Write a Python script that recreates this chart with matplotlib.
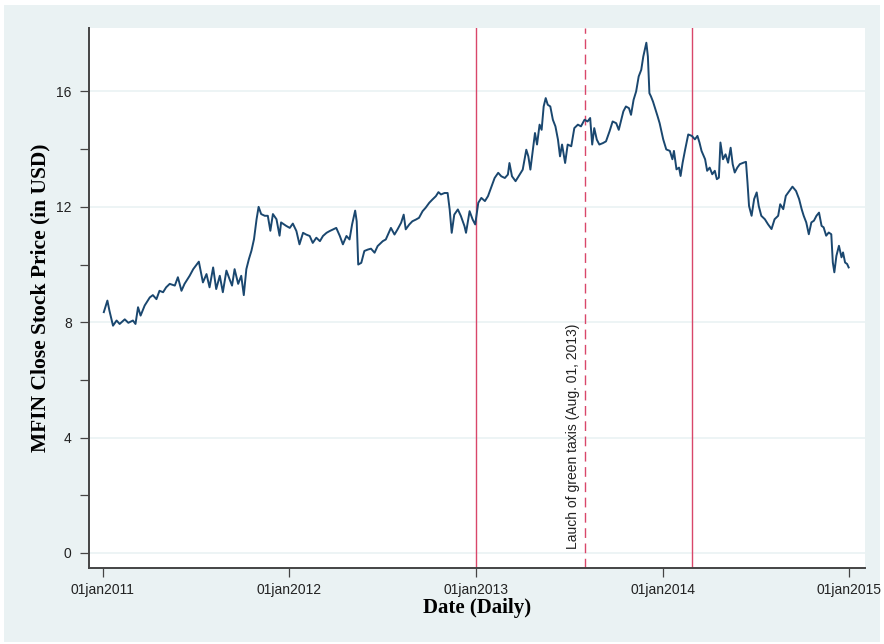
import pandas as pd
import matplotlib
matplotlib.use('Agg')
import matplotlib.pyplot as plt
from matplotlib.patches import Rectangle

# MFIN close price (approx. every week)
dates = [
    '2011-01-03', '2011-01-10', '2011-01-14', '2011-01-21', '2011-01-28', '2011-02-03', '2011-02-13', '2011-02-20',
    '2011-03-01', '2011-03-06', '2011-03-11', '2011-03-16', '2011-03-24', '2011-04-03', '2011-04-09', '2011-04-16',
    '2011-04-22', '2011-04-29', '2011-05-05', '2011-05-12', '2011-05-22', '2011-05-28', '2011-06-04', '2011-06-10',
    '2011-06-20', '2011-06-27', '2011-07-08', '2011-07-16', '2011-07-23', '2011-07-29', '2011-08-05', '2011-08-11',
    '2011-08-18', '2011-08-24', '2011-08-31', '2011-09-06', '2011-09-11', '2011-09-16', '2011-09-23', '2011-09-29',
    '2011-10-04', '2011-10-09', '2011-10-14', '2011-10-19', '2011-10-24', '2011-10-29', '2011-11-02', '2011-11-07',
    '2011-11-14', '2011-11-20', '2011-11-25', '2011-11-30', '2011-12-07', '2011-12-13', '2011-12-16', '2011-12-26',
    '2012-01-02', '2012-01-08', '2012-01-15', '2012-01-21', '2012-01-28', '2012-02-03', '2012-02-10', '2012-02-16',
    '2012-02-23', '2012-03-01', '2012-03-07', '2012-03-14', '2012-03-20', '2012-03-27', '2012-04-02', '2012-04-09',
    '2012-04-15', '2012-04-22', '2012-04-28', '2012-05-03', '2012-05-09', '2012-05-12', '2012-05-15', '2012-05-21',
    '2012-05-27', '2012-06-03', '2012-06-09', '2012-06-16', '2012-06-22', '2012-07-02', '2012-07-08', '2012-07-18',
    '2012-07-25', '2012-07-31', '2012-08-07', '2012-08-12', '2012-08-16', '2012-08-23', '2012-08-29', '2012-09-05',
    '2012-09-11', '2012-09-18', '2012-09-24', '2012-10-01', '2012-10-07', '2012-10-14', '2012-10-19', '2012-10-24',
    '2012-10-31', '2012-11-06', '2012-11-10', '2012-11-14', '2012-11-19', '2012-11-26', '2012-12-02', '2012-12-09',
    '2012-12-12', '2012-12-19', '2012-12-25', '2012-12-30',
    '2013-01-05', '2013-01-11', '2013-01-18', '2013-01-24', '2013-01-31', '2013-02-06', '2013-02-13', '2013-02-19',
    '2013-02-26', '2013-03-04', '2013-03-07', '2013-03-12', '2013-03-19', '2013-03-25', '2013-04-02', '2013-04-09',
    '2013-04-13', '2013-04-17', '2013-04-22', '2013-04-26', '2013-04-30', '2013-05-05', '2013-05-09', '2013-05-13',
    '2013-05-17', '2013-05-21', '2013-05-26', '2013-05-31', '2013-06-05', '2013-06-10', '2013-06-14', '2013-06-18',
    '2013-06-24', '2013-06-29', '2013-07-06', '2013-07-12', '2013-07-19', '2013-07-25', '2013-08-01', '2013-08-07',
    '2013-08-12', '2013-08-16', '2013-08-20', '2013-08-25', '2013-08-30', '2013-09-06', '2013-09-12', '2013-09-19',
    '2013-09-25', '2013-10-02', '2013-10-07', '2013-10-12', '2013-10-16', '2013-10-21', '2013-10-27', '2013-10-31',
    '2013-11-05', '2013-11-10', '2013-11-15', '2013-11-20', '2013-11-24', '2013-11-30', '2013-12-03', '2013-12-06',
    '2013-12-09', '2013-12-13', '2013-12-18', '2013-12-22', '2013-12-26',
    '2014-01-02', '2014-01-08', '2014-01-15', '2014-01-20', '2014-01-23', '2014-01-28', '2014-02-02', '2014-02-05',
    '2014-02-09', '2014-02-14', '2014-02-20', '2014-02-27', '2014-03-05', '2014-03-10', '2014-03-14', '2014-03-18',
    '2014-03-25', '2014-03-29', '2014-04-03', '2014-04-08', '2014-04-13', '2014-04-17', '2014-04-21', '2014-04-24',
    '2014-04-29', '2014-05-04', '2014-05-09', '2014-05-14', '2014-05-18', '2014-05-22', '2014-05-27', '2014-06-01',
    '2014-06-08', '2014-06-13', '2014-06-16', '2014-06-19', '2014-06-24', '2014-06-29', '2014-07-04', '2014-07-08',
    '2014-07-13', '2014-07-20', '2014-07-26', '2014-08-02', '2014-08-08', '2014-08-15', '2014-08-19', '2014-08-25',
    '2014-08-30', '2014-09-06', '2014-09-12', '2014-09-19', '2014-09-25', '2014-09-30', '2014-10-04', '2014-10-09',
    '2014-10-14', '2014-10-19', '2014-10-24', '2014-10-29', '2014-11-03', '2014-11-08', '2014-11-12', '2014-11-17',
    '2014-11-22', '2014-11-27', '2014-11-30', '2014-12-03', '2014-12-07', '2014-12-12', '2014-12-17', '2014-12-20',
    '2014-12-24', '2014-12-28', '2014-12-31',
]
price = [
    8.35, 8.75, 8.40, 7.88, 8.06, 7.94, 8.10, 7.98,
    8.06, 7.94, 8.52, 8.23, 8.58, 8.86, 8.94, 8.80,
    9.09, 9.04, 9.21, 9.33, 9.27, 9.56, 9.09, 9.33,
    9.61, 9.84, 10.10, 9.38, 9.67, 9.21, 9.90, 9.15,
    9.61, 9.04, 9.79, 9.50, 9.27, 9.84, 9.33, 9.61,
    8.94, 9.84, 10.19, 10.48, 10.88, 11.57, 12.00, 11.75,
    11.69, 11.69, 11.17, 11.75, 11.57, 11.00, 11.46, 11.34,
    11.27, 11.42, 11.16, 10.70, 11.10, 11.04, 10.99, 10.75,
    10.93, 10.81, 10.99, 11.10, 11.16, 11.22, 11.27, 10.99,
    10.70, 10.99, 10.87, 11.39, 11.87, 11.50, 10.00, 10.06,
    10.47, 10.52, 10.55, 10.41, 10.64, 10.81, 10.87, 11.27,
    11.04, 11.22, 11.45, 11.73, 11.22, 11.39, 11.50, 11.56,
    11.62, 11.85, 11.97, 12.14, 12.25, 12.37, 12.51, 12.43,
    12.48, 12.48, 11.91, 11.10, 11.73, 11.91, 11.68, 11.33,
    11.10, 11.85, 11.56, 11.39,
    12.14, 12.31, 12.20, 12.37, 12.71, 13.00, 13.18, 13.06,
    13.00, 13.12, 13.52, 13.06, 12.89, 13.06, 13.29, 13.98,
    13.75, 13.29, 13.98, 14.56, 14.16, 14.85, 14.67, 15.48,
    15.77, 15.54, 15.48, 15.02, 14.79, 14.33, 13.75, 14.16,
    13.52, 14.16, 14.10, 14.73, 14.85, 14.79, 15.02, 14.96,
    15.08, 14.16, 14.73, 14.33, 14.16, 14.21, 14.27, 14.62,
    14.96, 14.90, 14.67, 15.02, 15.31, 15.48, 15.42, 15.19,
    15.71, 16.00, 16.52, 16.75, 17.21, 17.69, 17.21, 15.94,
    15.83, 15.65, 15.37, 15.14, 14.90,
    14.34, 13.99, 13.94, 13.65, 13.94, 13.30, 13.36, 13.07,
    13.53, 13.99, 14.51, 14.46, 14.34, 14.46, 14.23, 13.94,
    13.65, 13.25, 13.36, 13.13, 13.25, 12.96, 13.01, 14.23,
    13.65, 13.82, 13.53, 14.05, 13.48, 13.19, 13.36, 13.48,
    13.53, 13.56, 12.84, 12.03, 11.69, 12.27, 12.50, 12.03,
    11.69, 11.57, 11.40, 11.23, 11.57, 11.69, 12.09, 11.92,
    12.38, 12.55, 12.70, 12.55, 12.27, 11.92, 11.69, 11.46,
    11.05, 11.46, 11.52, 11.69, 11.80, 11.34, 11.29, 11.00,
    11.11, 11.05, 10.07, 9.73, 10.30, 10.65, 10.25, 10.42,
    10.07, 10.02, 9.90,
]

event_solid = ['2013-01-01', '2014-02-28']
event_dash = '2013-08-01'
event_label = 'Lauch of green taxis (Aug. 01, 2013)'
xtick_dates = ['2011-01-01', '2012-01-01', '2013-01-01', '2014-01-01', '2015-01-01']
xtick_labels = ['01jan2011', '01jan2012', '01jan2013', '01jan2014', '01jan2015']
yticks = [0, 4, 8, 12, 16]

df = pd.DataFrame({'date': pd.to_datetime(dates), 'close': price})

bg = '#EAF2F3'
navy = '#1A476F'
red = '#D9476A'

fig = plt.figure(figsize=(8.84, 6.44), dpi=100, facecolor='white')
fig.patches.append(Rectangle((4 / 884, 2 / 644), 876 / 884, 637 / 644, transform=fig.transFigure,
                             facecolor=bg, edgecolor='none', zorder=-10))
ax = fig.add_axes([89 / 884, 76 / 644, 776 / 884, 540 / 644])
ax.set_facecolor('white')

ax.plot(df['date'], df['close'], color=navy, lw=1.4, zorder=3)

for d in event_solid:
    ax.axvline(pd.Timestamp(d), color=red, lw=1.0, zorder=2)
ax.axvline(pd.Timestamp(event_dash), color=red, lw=1.0, dashes=(7, 4), zorder=2)
ax.annotate(event_label, xy=(pd.Timestamp(event_dash), 0.15), xytext=(-3, 0), textcoords='offset points',
            rotation=90, ha='right', va='bottom', fontsize=10, family='Liberation Sans', color='#222222')

ax.set_xlim(pd.Timestamp('2010-12-05'), pd.Timestamp('2015-02-01'))
ax.set_ylim(-0.52, 18.2)
ax.set_xticks(pd.to_datetime(xtick_dates))
ax.set_xticklabels(xtick_labels, family='Liberation Sans', fontsize=10, color='#222222')
ax.set_yticks(yticks)
ax.set_yticklabels([str(v) for v in yticks], family='Liberation Sans', fontsize=10, color='#222222')
ax.set_yticks([2, 6, 10, 14], minor=True)
ax.tick_params(which='both', direction='out', length=6.5, width=0.9, color='#444444')
ax.tick_params(axis='y', pad=6)
ax.tick_params(axis='x', pad=4)

ax.grid(axis='y', which='major', color=bg, lw=1.2)
ax.set_axisbelow(True)
for s in ['top', 'right']:
    ax.spines[s].set_visible(False)
for s in ['left', 'bottom']:
    ax.spines[s].set_color('#444444')
    ax.spines[s].set_linewidth(1.4)

ax.set_ylabel('MFIN Close Stock Price (in USD)', family='Liberation Serif', fontweight='bold', fontsize=15.5, labelpad=4)
ax.set_xlabel('Date (Daily)', family='Liberation Serif', fontweight='bold', fontsize=15, labelpad=1)

fig.savefig('out.png', dpi=100, facecolor='white')
